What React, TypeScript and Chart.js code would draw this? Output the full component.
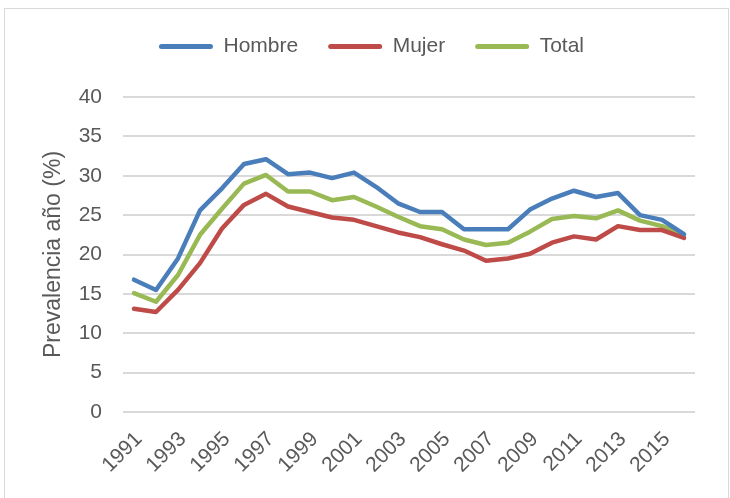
import React, { useEffect, useRef } from "react";
import { Chart, registerables } from "chart.js";

Chart.register(...registerables);

const years = [
  "1991", "1992", "1993", "1994", "1995", "1996", "1997", "1998", "1999", "2000",
  "2001", "2002", "2003", "2004", "2005", "2006", "2007", "2008", "2009", "2010",
  "2011", "2012", "2013", "2014", "2015", "2016",
];

const hombre = [
  16.8, 15.5, 19.5, 25.6, 28.4, 31.5, 32.1, 30.2, 30.4, 29.7,
  30.4, 28.6, 26.5, 25.4, 25.4, 23.2, 23.2, 23.2, 25.7, 27.1,
  28.1, 27.3, 27.8, 25.0, 24.4, 22.6,
];

const mujer = [
  13.1, 12.7, 15.5, 18.9, 23.3, 26.3, 27.7, 26.1, 25.4, 24.7,
  24.4, 23.6, 22.8, 22.2, 21.3, 20.5, 19.2, 19.5, 20.1, 21.5,
  22.3, 21.9, 23.6, 23.1, 23.1, 22.1,
];

const total = [
  15.1, 14.0, 17.4, 22.5, 25.8, 29.0, 30.1, 28.0, 28.0, 26.9,
  27.3, 26.1, 24.8, 23.6, 23.2, 21.9, 21.2, 21.5, 22.9, 24.5,
  24.9, 24.6, 25.6, 24.3, 23.6, 22.5,
];

const seriesNames = ["Hombre", "Mujer", "Total"];
const seriesColors = ["#4a7ebb", "#be4b48", "#98b954"];
const yTitle = "Prevalencia año (%)";

export default function App() {
  const ref = useRef<HTMLCanvasElement>(null);

  useEffect(() => {
    if (!ref.current) return;
    const font = "'Liberation Sans', Arial, sans-serif";
    const textColor = "#595959";

    const legendFix = {
      id: "legendFix",
      beforeLayout(chart: any) {
        const lg = chart.legend;
        if (lg && !lg._patched) {
          const orig = lg.fit.bind(lg);
          lg.fit = function () {
            orig();
            this.height = 91;
          };
          lg._patched = true;
        }
      },
      afterLayout(chart: any) {
        const lg = chart.legend;
        if (lg) {
          lg.left += 24;
          lg.right += 24;
        }
      },
    };

    const data = [hombre, mujer, total];

    const chart = new Chart(ref.current, {
      type: "line",
      data: {
        labels: years,
        datasets: seriesNames.map((name, i) => ({
          label: name,
          data: data[i],
          borderColor: seriesColors[i],
          backgroundColor: seriesColors[i],
          borderWidth: 4.5,
          pointRadius: 0,
          pointHoverRadius: 0,
          tension: 0,
          fill: false,
          borderJoinStyle: "round" as const,
          borderCapStyle: "round" as const,
        })),
      },
      options: {
        responsive: false,
        animation: false,
        devicePixelRatio: 1,
        layout: { padding: { left: 0, right: 35, top: 6, bottom: 0 } },
        plugins: {
          tooltip: { enabled: false },
          legend: {
            position: "top",
            align: "center",
            labels: {
              font: { family: font, size: 21 },
              color: textColor,
              boxWidth: 54,
              boxHeight: 5,
              padding: 30,
              useBorderRadius: true,
              borderRadius: 2.5,
              generateLabels: (chart: any) => {
                const items = Chart.defaults.plugins.legend.labels.generateLabels(chart);
                return items.map((it: any) => ({ ...it, lineWidth: 0, strokeStyle: it.fillStyle }));
              },
            },
          },
        },
        scales: {
          x: {
            offset: true,
            grid: { display: false, drawTicks: false },
            border: { display: false },
            afterFit: (s: any) => {
              s.height = 86;
            },
            ticks: {
              autoSkip: false,
              maxRotation: 45,
              minRotation: 45,
              padding: 15,
              labelOffset: 5,
              color: textColor,
              font: { family: font, size: 21 },
              callback: (_v: any, idx: number) => (idx % 2 === 0 ? years[idx] : ""),
            },
          },
          y: {
            min: 0,
            max: 40,
            grid: { color: "#d9d9d9", lineWidth: 2, drawTicks: false },
            border: { display: false },
            afterFit: (s: any) => {
              s.width = 123;
            },
            ticks: {
              stepSize: 5,
              padding: 21,
              color: textColor,
              font: { family: font, size: 21 },
            },
            title: {
              display: true,
              text: yTitle,
              color: textColor,
              font: { family: font, size: 23, weight: "normal" },
              padding: { top: 40, bottom: 0 },
            },
          },
        },
      },
      plugins: [legendFix],
    });

    return () => chart.destroy();
  }, []);

  return (
    <div style={{ position: "fixed", left: 0, top: 0, width: 730, height: 498, background: "#fff", overflow: "hidden" }}>
      <div
        style={{
          position: "absolute",
          left: 4,
          top: 8,
          width: 725,
          height: 500,
          border: "1px solid #d9d9d9",
          boxSizing: "border-box",
        }}
      />
      <canvas ref={ref} width={730} height={498} style={{ position: "absolute", left: 0, top: 0 }} />
    </div>
  );
}
